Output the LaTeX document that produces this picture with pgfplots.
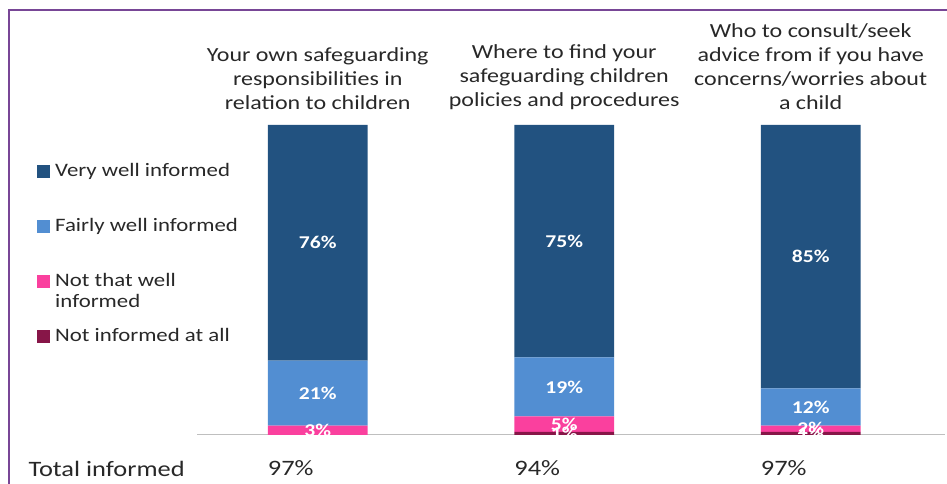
\documentclass[border=0pt]{standalone}
\usepackage{pgfplots}
\pgfplotsset{compat=1.18}
\usepackage{fontspec}
\setmainfont[FakeStretch=1.2]{Carlito}
\definecolor{cvery}{RGB}{34,82,128}
\definecolor{cfair}{RGB}{82,142,210}
\definecolor{cnot}{RGB}{250,64,158}
\definecolor{cnone}{RGB}{135,22,72}
\definecolor{cframe}{RGB}{120,70,150}
\definecolor{ctext}{RGB}{40,40,40}
\begin{document}
\begin{tikzpicture}
\useasboundingbox (0,0) rectangle (947bp,484bp);
\draw[cframe, line width=2.2bp] (9bp,0) -- (9bp,474bp) -- (947bp,474bp);
\pgfplotsset{common/.style={
  scale only axis, width=748bp, height=310bp,
  at={(197bp,49bp)}, anchor=south west,
  xmin=-0.49, xmax=2.545, ymin=0, ymax=100,
}}
\begin{axis}[common,
  ybar stacked, bar width=0.405,
  axis x line*=bottom, axis y line=none,
  x axis line style={draw=black!25, line width=1bp},
  xtick={0,1,2}, major tick length=0pt,
  xticklabels={97\%,94\%,97\%},
  xticklabel style={font=\fontsize{22bp}{26bp}\selectfont, text=ctext, xshift=-27bp, anchor=base, yshift=-40bp},
  ytick=\empty,
  reverse legend,
  legend cell align=left,
  legend image code/.code={\fill[#1] (0bp,-6.5bp) rectangle (13bp,6.5bp);},
  legend style={at={(-0.2139,0.88)}, anchor=north west, draw=none, fill=none, inner sep=0pt,
    row sep=37bp, column sep=5bp,
    font=\fontsize{19bp}{21bp}\selectfont,
    nodes={text height=14bp, text depth=4bp, inner sep=0pt, text=ctext}},
]
\addplot[fill=cnone, draw=none] coordinates {(0,0) (1,1) (2,1)};
\addlegendentry{Not informed at all}
\addplot[fill=cnot, draw=none] coordinates {(0,3) (1,5) (2,2)};
\addlegendentry{\parbox[t]{6cm}{Not that well\\informed}}
\addplot[fill=cfair, draw=none] coordinates {(0,21) (1,19) (2,12)};
\addlegendentry{Fairly well informed}
\addplot[fill=cvery, draw=none] coordinates {(0,76) (1,75) (2,85)};
\addlegendentry{Very well informed}
\end{axis}
\begin{axis}[common,
  axis x line*=top, axis y line=none,
  x axis line style={draw=none},
  xtick={0,1,2}, major tick length=0pt, ytick=\empty,
  xticklabel pos=upper,
  xticklabels={{Your own safeguarding\\responsibilities in\\relation to children},
               {Where to find your\\safeguarding children\\policies and procedures},
               {Who to consult/seek\\advice from if you have\\concerns/worries about\\a child}},
  xticklabel style={font=\fontsize{20bp}{24bp}\selectfont, text=ctext, align=center, anchor=south, yshift=12bp},
  nodes near coords, point meta=explicit symbolic,
  nodes near coords align={center},
  every node near coord/.append style={font=\bfseries\fontsize{18bp}{20bp}\selectfont, text=white},
]
\addplot[draw=none, mark=none] table[meta=l] {
x y l
0 62 76\%
0 13.5 21\%
0 1.5 3\%
1 62.5 75\%
1 15.5 19\%
1 3.5 5\%
1 0.5 1\%
2 57.5 85\%
2 9 12\%
2 2 2\%
2 0.5 1\%
};
\end{axis}
\node[anchor=base west, font=\fontsize{22bp}{26bp}\selectfont, text=ctext] at (25bp,8bp) {Total informed};
\end{tikzpicture}
\end{document}
